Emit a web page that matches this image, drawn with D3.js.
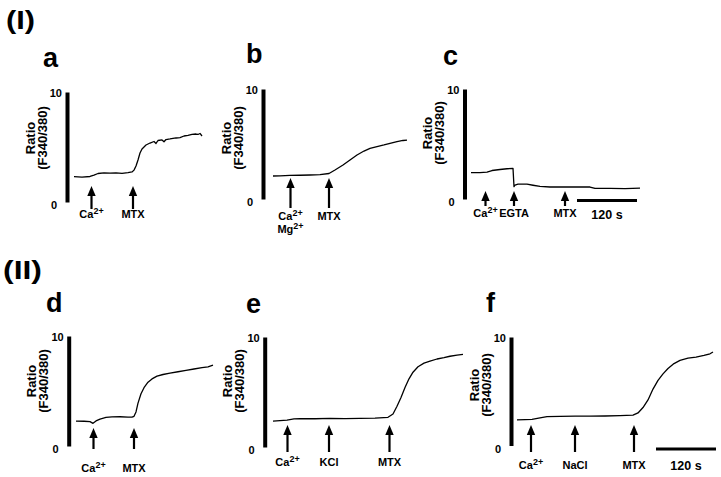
<!DOCTYPE html>
<html><head><meta charset="utf-8">
<script src="https://cdn.jsdelivr.net/npm/d3@7"></script>
<style>
html,body{margin:0;padding:0;background:#fff;}
svg{display:block;font-family:"Liberation Sans",Arial,Helvetica,sans-serif;}
</style></head><body>
<svg id="chart" width="721" height="477"></svg>
<script>
// ---------------- DATA ----------------
// time in seconds, ratio F340/380
const timeA  = [0,16,32,40,48,60,72,84,96,108,116,120,124,128,132,136,144,152,160,164,168,176,180,184,192,204,212,220,228,236,244,248,252,256];
const ratioA = [2.30,2.27,2.32,2.45,2.59,2.64,2.62,2.65,2.61,2.67,2.73,2.90,3.27,3.82,4.45,4.82,5.18,5.36,5.50,5.32,5.59,5.64,5.48,5.68,5.73,5.82,5.86,6.00,6.05,6.14,6.18,6.14,6.23,6.00];
const eventTimesA  = [35,118];
const eventLabelsA = [["Ca2+"],["MTX"]];

const timeB  = [0,14,34,54,74,94,112,124,140,154,168,182,194,208,222,234,248,260,268];
const ratioB = [2.09,2.11,2.15,2.16,2.18,2.22,2.32,2.64,3.09,3.55,4.00,4.36,4.61,4.77,4.91,5.05,5.21,5.32,5.36];
const eventTimesB  = [35,112];
const eventLabelsB = [["Ca2+","Mg2+"],["MTX"]];

const timeC  = [0,18,32,42,58,72,84,86,88,94,112,124,138,158,178,208,238,248,278,308,338];
const ratioC = [2.39,2.39,2.45,2.59,2.68,2.75,2.79,1.12,1.27,1.36,1.35,1.25,1.14,1.09,1.09,1.09,1.09,0.97,0.97,0.95,0.98];
const eventTimesC  = [29,86,188];
const eventLabelsC = [["Ca2+"],["EGTA"],["MTX"]];
const scaleBarStartC = 212;

const timeD  = [0,16,28,34,40,48,60,72,88,104,112,116,120,124,130,136,144,152,162,174,188,204,220,236,252,264,274];
const ratioD = [2.27,2.25,2.21,2.06,2.28,2.45,2.60,2.64,2.66,2.63,2.62,2.70,3.10,3.90,4.75,5.30,5.80,6.10,6.35,6.50,6.62,6.75,6.88,7.00,7.12,7.20,7.36];
const eventTimesD  = [35,116];
const eventLabelsD = [["Ca2+"],["MTX"]];

const timeE  = [0,14,28,42,54,84,114,144,174,204,230,240,248,256,264,272,280,290,302,314,328,342,354,368,380];
const ratioE = [2.36,2.40,2.45,2.55,2.58,2.57,2.60,2.58,2.60,2.62,2.70,3.00,3.70,4.50,5.40,6.20,6.80,7.30,7.62,7.80,8.00,8.12,8.25,8.35,8.42];
const eventTimesE  = [29,112,233];
const eventLabelsE = [["Ca2+"],["KCl"],["MTX"]];

const timeF  = [0,16,30,46,60,86,116,146,176,206,232,242,252,262,272,282,292,302,314,326,342,358,374,386,392];
const ratioF = [2.36,2.38,2.40,2.55,2.66,2.68,2.70,2.70,2.72,2.75,2.80,3.00,3.50,4.20,5.20,6.00,6.60,7.10,7.55,7.85,8.05,8.15,8.30,8.45,8.62];
const eventTimesF  = [28,116,234];
const eventLabelsF = [["Ca2+"],["NaCl"],["MTX"]];
const scaleBarStartF = 278;

const scaleBarSeconds = 120;
const scaleBarLabel = "120 s";
const yTicks = [0, 10];
const yLabelLines = ["Ratio", "(F340/380)"];
const sectionLabels = ["(I)", "(II)"];
const panelLetters = ["a","b","c","d","e","f"];

// ---------------- LAYOUT (positions only) ----------------
const PX_PER_120S = 60;
const layout = [
  {axisX:67,   y0:202,   y10:92,  x0:74,  arrowTop:186, arrowBot:209, labelY:218, ratioY:138, letterX:43,  letterY:67},
  {axisX:263,  y0:199,   y10:89,  x0:273, arrowTop:178, arrowBot:208, labelY:220, ratioY:138, letterX:246, letterY:63},
  {axisX:464.5,y0:199,   y10:89,  x0:471, arrowTop:191, arrowBot:206, labelY:217, ratioY:133, letterX:443, letterY:65, barY:200.5, barTextY:219},
  {axisX:68.7, y0:446,   y10:336, x0:76,  arrowTop:428, arrowBot:449, labelY:472, ratioY:381, letterX:46,  letterY:312},
  {axisX:264.7,y0:447,   y10:337, x0:273, arrowTop:425, arrowBot:452, labelY:466, ratioY:381, letterX:246, letterY:313},
  {axisX:511,  y0:445.5, y10:337, x0:517, arrowTop:425, arrowBot:452, labelY:469, ratioY:385, letterX:486, letterY:312, barY:449, barTextY:470}
];
const panelData = [
  {time:timeA, ratio:ratioA, evT:eventTimesA, evL:eventLabelsA},
  {time:timeB, ratio:ratioB, evT:eventTimesB, evL:eventLabelsB},
  {time:timeC, ratio:ratioC, evT:eventTimesC, evL:eventLabelsC, bar:scaleBarStartC},
  {time:timeD, ratio:ratioD, evT:eventTimesD, evL:eventLabelsD},
  {time:timeE, ratio:ratioE, evT:eventTimesE, evL:eventLabelsE},
  {time:timeF, ratio:ratioF, evT:eventTimesF, evL:eventLabelsF, bar:scaleBarStartF}
];

const svg = d3.select("#chart");

// section labels
svg.append("text").attr("x",6).attr("y",29).attr("font-size",26).attr("font-weight","bold")
  .attr("textLength",29).attr("lengthAdjust","spacingAndGlyphs").text(sectionLabels[0]);
svg.append("text").attr("x",3).attr("y",279).attr("font-size",26).attr("font-weight","bold")
  .attr("textLength",39).attr("lengthAdjust","spacingAndGlyphs").text(sectionLabels[1]);

function addLabel(sel, str) {
  const m = str.match(/^(.*?)(\d\+)$/);
  if (m) {
    sel.append("tspan").text(m[1]);
    sel.append("tspan").attr("font-size",9).attr("dy",-4).text(m[2]);
  } else sel.text(str);
}

panelData.forEach((pd, i) => {
  const p = layout[i];
  const g = svg.append("g");
  const x = d3.scaleLinear().domain([0, 120]).range([p.x0, p.x0 + PX_PER_120S]);
  const y = d3.scaleLinear().domain([0, 10]).range([p.y0, p.y10]);

  // panel letter
  g.append("text").attr("x",p.letterX).attr("y",p.letterY).attr("font-size",27)
    .attr("font-weight","bold").text(panelLetters[i]);

  // axis
  const ax = g.append("g").attr("transform",`translate(${p.axisX},0)`)
    .call(d3.axisLeft(y).tickValues(yTicks).tickSize(0).tickSizeOuter(0).tickPadding(5).tickFormat(d3.format("d")));
  ax.select(".domain").attr("stroke","#000").attr("stroke-width",4);
  ax.selectAll(".tick text").attr("font-size",11).attr("font-weight","bold")
    .attr("font-family","'Liberation Sans',Arial,sans-serif").attr("fill","#000")
    .attr("x", d => d === 0 ? -10 : -5)
    .attr("dy", d => d === 0 ? "0.6em" : "0.45em");

  // y label
  yLabelLines.forEach((line, k) => {
    g.append("text")
      .attr("transform",`translate(${p.axisX - 37 + k*12},${p.ratioY}) rotate(-90)`)
      .attr("text-anchor","middle").attr("dy","0.35em")
      .attr("font-size",13).attr("font-weight","bold").text(line);
  });

  // trace
  const pts = pd.time.map((t, k) => [t, pd.ratio[k]]);
  g.append("path").datum(pts)
    .attr("d", d3.line().x(d => x(d[0])).y(d => y(d[1])))
    .attr("fill","none").attr("stroke","#000").attr("stroke-width",1.3)
    .attr("stroke-linejoin","round");

  // arrows
  pd.evT.forEach((t, k) => {
    const ax0 = x(t);
    g.append("line").attr("x1",ax0).attr("x2",ax0).attr("y1",p.arrowTop+6).attr("y2",p.arrowBot)
      .attr("stroke","#000").attr("stroke-width",2.2);
    g.append("path").attr("d",`M${ax0},${p.arrowTop} L${ax0-4.2},${p.arrowTop+10} L${ax0+4.2},${p.arrowTop+10} Z`)
      .attr("fill","#000");
    pd.evL[k].forEach((lab, j) => {
      const tx = g.append("text").attr("x",ax0).attr("y",p.labelY + j*13)
        .attr("text-anchor","middle").attr("font-size",11).attr("font-weight","bold");
      addLabel(tx, lab);
    });
  });

  // scale bar
  if (pd.bar !== undefined) {
    g.append("line").attr("x1",x(pd.bar)).attr("x2",x(pd.bar + scaleBarSeconds))
      .attr("y1",p.barY).attr("y2",p.barY).attr("stroke","#000").attr("stroke-width",3);
    g.append("text").attr("x",x(pd.bar + scaleBarSeconds/2)).attr("y",p.barTextY)
      .attr("text-anchor","middle").attr("font-size",12.5).attr("font-weight","bold").text(scaleBarLabel);
  }
});
</script>
</body></html>
